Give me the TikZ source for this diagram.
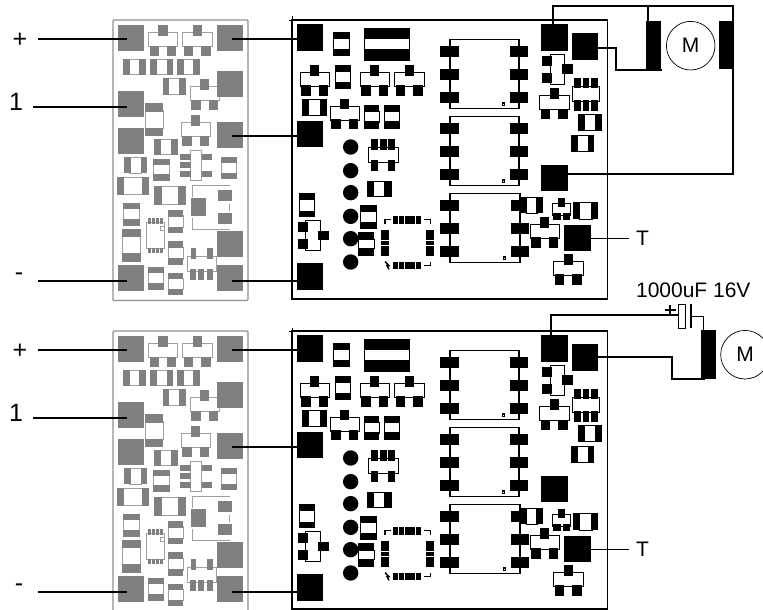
\documentclass[tikz,border=0pt]{standalone}
\usepackage{fontspec}
\setmainfont{Liberation Sans}
\colorlet{padc}{black}
\colorlet{linec}{black}
\tikzset{
  partfill/.style={fill=padc},
  partline/.style={draw=linec,line width=.85pt,fill=white},
  openline/.style={draw=linec,line width=.9pt},
  zoomgrid/.style={x=0.33333pt,y=-0.33333pt},
  gpad/.style={rectangle,fill=padgrey,draw=none,inner sep=0pt,minimum width=26pt,minimum height=26pt},
  bpad/.style={rectangle,fill=black,draw=none,inner sep=0pt,minimum width=26.5pt,minimum height=26.5pt},
  wire/.style={draw=black,line width=2pt},
  thinwire/.style={draw=black,line width=1.4pt},
  board/.style={draw=black,line width=1.5pt},
  greyedge/.style={draw=edgegrey,line width=1.3pt,rounded corners=1pt},
  motorbar/.style={fill=black},
  motor/.style={circle,draw=black,line width=0.7pt,minimum size=48.6pt,inner sep=0pt},
  bigtext/.style={inner sep=0pt,font=\fontsize{25}{25}\selectfont},
  midtext/.style={inner sep=0pt,font=\fontsize{21}{21}\selectfont},
}
\definecolor{padgrey}{HTML}{808080}
\definecolor{linegrey}{HTML}{A0A0A0}
\definecolor{edgegrey}{HTML}{909090}
\newcommand{\rct}[4]{\fill[partfill] (#1,#2) rectangle (#3,#4);}
\newcommand{\sotpart}[2]{%
  \draw[partline] ({#1-44},{#2+22}) rectangle ({#1+44},{#2+64});
  \rct{#1-14}{#2}{#1+14}{#2+32}
  \rct{#1-40}{#2+61}{#1-12}{#2+92}
  \rct{#1+12}{#2+61}{#1+40}{#2+92}}
\newcommand{\caph}[5]{%
  \draw[partline] ({#1+#5-3},{#2+1}) rectangle ({#3-#5+3},{#4-1});
  \rct{#1}{#2}{#1+#5}{#4}
  \rct{#3-#5}{#2}{#3}{#4}}
\newcommand{\capv}[5]{%
  \draw[partline] ({#1+1},{#2+#5-3}) rectangle ({#3-1},{#4-#5+3});
  \rct{#1}{#2}{#3}{#2+#5}
  \rct{#1}{#4-#5}{#3}{#4}}
\newcommand{\rsot}[2]{%
  \draw[partline] ({#1+24},#2) rectangle ({#1+68},{#2+90});
  \rct{#1}{#2+4}{#1+30}{#2+34}
  \rct{#1}{#2+56}{#1+30}{#2+86}
  \rct{#1+61}{#2+30}{#1+93}{#2+58}}
\newcommand{\soic}[3]{% left x, top y, right x
  \draw[partline,line width=1.1pt] (#1,#2) rectangle (#3,{#2+207});
  \foreach \d in {19,88,157}{
    \rct{#1-30}{#2+\d}{#1+27}{#2+\d+35}
    \rct{#3-27}{#2+\d}{#3+28}{#2+\d+35}}
  \draw[openline,line width=1.2pt] ({#3-50},{#2+191}) rectangle ({#3-43},{#2+198});}

\newcommand{\greyboard}{%
  \colorlet{padc}{padgrey}\colorlet{linec}{linegrey}
  \begin{scope}[zoomgrid,xshift=100pt]
    \sotpart{189}{76}\sotpart{292}{76}\sotpart{314}{238}\sotpart{287}{346}
    \caph{70}{176}{137}{225}{20}\caph{150}{176}{220}{225}{20}\caph{232}{176}{300}{225}{20}
    \caph{188}{235}{258}{285}{20}\caph{163}{417}{233}{465}{20}\caph{72}{472}{142}{520}{20}
    \caph{50}{530}{148}{584}{23}\caph{163}{558}{258}{614}{24}
    \capv{135}{310}{190}{408}{25}\capv{160}{476}{210}{543}{20}\capv{362}{470}{410}{538}{20}
    \capv{70}{608}{120}{678}{20}\capv{66}{687}{122}{785}{25}\capv{203}{630}{250}{700}{20}
    \capv{203}{724}{250}{795}{20}\capv{143}{800}{192}{870}{20}\capv{203}{818}{250}{886}{20}
    % six-pin part
    \draw[partline] (270,452) rectangle (305,540);
    \rct{240}{462}{272}{480}\rct{240}{486}{272}{505}\rct{240}{513}{272}{531}
    \rct{305}{462}{337}{480}\rct{305}{513}{337}{531}
    % regulator
    \draw[openline] (277,590) -- (277,557) -- (390,557);
    \draw[openline] (277,655) -- (277,688) -- (390,688);
    \draw[openline] (388,612) -- (388,632);
    \rct{273}{594}{317}{648}\rct{353}{570}{397}{604}\rct{353}{638}{397}{672}
    % small package
    \draw[partline] (140,668) rectangle (192,745);
    \foreach \qx in {145,157,169,181}{\rct{\qx}{655}{\qx+8}{672}\rct{\qx}{745}{\qx+8}{760}}
    \draw[openline] (180,680) rectangle (192,692);
    % bottom part
    \draw[partline] (262,770) rectangle (348,815);
    \rct{272}{745}{288}{778}\rct{320}{745}{338}{778}
    \rct{270}{806}{288}{840}\rct{295}{806}{312}{840}\rct{320}{806}{340}{840}
  \end{scope}}

\newcommand{\blackparts}{%
  \colorlet{padc}{black}\colorlet{linec}{black}
  \begin{scope}[zoomgrid,xshift=285pt]
    \capv{143}{97}{195}{168}{20}\capv{238}{84}{375}{182}{34}
    \sotpart{89}{195}\capv{150}{195}{197}{268}{22}\sotpart{269}{195}\sotpart{373}{195}
    \caph{52}{296}{126}{347}{20}\sotpart{179}{296}
    \capv{237}{315}{283}{386}{22}\capv{298}{315}{344}{386}{22}
    \foreach \cy in {441,512,578,649,716,786}{\fill[partfill] (197,\cy) circle[radius=7.7pt];}
    \draw[partline] (250,443) rectangle (340,487);
    \rct{258}{418}{280}{450}\rct{284}{418}{306}{450}\rct{308}{418}{330}{450}
    \rct{258}{480}{280}{512}\rct{308}{480}{330}{512}
    \caph{245}{542}{320}{590}{22}\capv{225}{615}{275}{687}{22}\capv{218}{696}{268}{768}{25}
    \capv{43}{580}{90}{652}{20}\rsot{38}{662}
    % square package
    \foreach \qx in {325,342,359,376,393}{\rct{\qx}{648}{\qx+15}{672}\rct{\qx}{785}{\qx+15}{808}}
    \foreach \qy in {690,706,722,738,754}{\rct{287}{\qy}{313}{\qy+14}\rct{422}{\qy}{448}{\qy+14}}
    \draw[openline,line width=1.4pt] (300,673) -- (300,658) -- (318,658);
    \draw[openline,line width=1.4pt] (418,658) -- (436,658) -- (436,673);
    \draw[openline,line width=1.4pt] (418,796) -- (436,796) -- (436,785);
    \draw[openline,line width=1.4pt] (300,785) -- (312,797) -- (306,797) -- (312,808);
  \end{scope}
  \begin{scope}[zoomgrid,xshift=440pt]
    \soic{30}{118}{237}\soic{30}{349}{237}\soic{30}{580}{240}
    \rsot{306}{163}
    \draw[partline] (397,260) rectangle (478,305);
    \rct{403}{233}{422}{265}\rct{428}{233}{447}{265}\rct{452}{233}{473}{265}
    \rct{403}{300}{422}{332}\rct{428}{300}{447}{332}\rct{452}{300}{473}{332}
    \sotpart{343}{265}
    \caph{415}{343}{485}{393}{20}\caph{393}{406}{463}{455}{20}
    \caph{240}{592}{310}{640}{21}
    % small transistor
    \draw[partline] (338,610) rectangle (392,645);
    \rct{355}{595}{375}{620}\rct{340}{640}{362}{660}\rct{368}{640}{390}{660}
    \caph{400}{607}{473}{658}{20}
    \sotpart{314}{651}\sotpart{385}{762}
  \end{scope}}

\newcommand{\leftwires}[1]{%
  \node[gpad] (#1g1) at (130.5,38) {};
  \node[gpad] (#1g2) at (230,38) {};
  \node[gpad] (#1g3) at (230,84) {};
  \node[gpad] (#1g4) at (130.5,104) {};
  \node[gpad] (#1g5) at (130.5,141) {};
  \node[gpad] (#1g6) at (230,135) {};
  \node[gpad] (#1g7) at (230,244) {};
  \node[gpad] (#1g8) at (130.5,278.3) {};
  \node[gpad] (#1g9) at (230,278.3) {};
  \node[bpad] (#1b1) at (310,37.3) {};
  \node[bpad] (#1b2) at (310,134) {};
  \node[bpad] (#1b3) at (310,276.3) {};
  \node[bpad] (#1b4) at (554.3,37.3) {};
  \node[bpad] (#1b5) at (585,46.7) {};
  \node[bpad] (#1b6) at (554.3,178) {};
  \node[bpad] (#1b7) at (577.5,238) {};
  \node[bigtext] (#1plus) at (20,40) {+};
  \node[bigtext] (#1one) at (16,102) {1};
  \node[bigtext] (#1minus) at (19,277) {-};
  \node[midtext] (#1tee) at (642.5,238.5) {T};
  \coordinate (#1s1) at (38,39);
  \coordinate (#1s2) at (33,107);
  \coordinate (#1s3) at (38,281);
  \coordinate (#1s4) at (628.5,238.7);
  \draw[wire] (#1s1) -- ([shift={(-3.5pt,-1pt)}]#1g1.center);
  \draw[wire] (#1s2) -- ([shift={(-3.5pt,-3pt)}]#1g4.center);
  \draw[wire] (#1s3) -- ([shift={(-3.5pt,-2.7pt)}]#1g8.center);
  \draw[wire] ([shift={(2pt,-1pt)}]#1g2.center) -- ([yshift=-1.7pt]#1b1.west);
  \draw[wire] ([shift={(2pt,-.5pt)}]#1g6.center) -- ([yshift=-1.5pt]#1b2.west);
  \draw[wire] ([shift={(2pt,-2.7pt)}]#1g9.center) -- ([yshift=-4.7pt]#1b3.west);
  \draw[thinwire] ([yshift=-.7pt]#1b7.east) -- (#1s4);}

\begin{document}
\begin{tikzpicture}[x=1pt,y=-1pt]
\useasboundingbox (0,0) rectangle (763,610);
\clip (0,0) rectangle (763,610);
\fill[white] (0,0) rectangle (763,610);

% ---------- upper assembly ----------
\draw[greyedge] (113,20) rectangle (248,300.5);
\draw[board] (292,20) rectangle (607.7,299);
\draw[line width=.6pt] (289,20) -- (292,20) -- (292,16.5);
\greyboard
\blackparts
\leftwires{u}
% motor wiring, upper
\coordinate (ua) at (552.7,6);
\coordinate (ub) at (733.3,6);
\coordinate (uc) at (733.3,174.3);
\coordinate (ud) at (648.3,6);
\coordinate (ue) at (648.3,20.7);
\coordinate (uf) at (616,47.7);
\coordinate (ug) at (616,70.3);
\coordinate (uh) at (661.7,70.3);
\fill[motorbar] (646,20.7) rectangle (661,71);
\fill[motorbar] (718.7,20.7) rectangle (733.3,69.3);
\node[motor] (um) at (690.7,45.7) {};
\node[midtext] (uml) at (um.center) {M};
\draw[wire] ([xshift=-1.6pt]ub4.north) -- (ua) -- (ub) -- (uc) -- ([yshift=3.7pt]ub6.east);
\draw[wire] (ud) -- (ue);
\draw[wire] ([yshift=-1pt]ub5.east) -- (uf) -- (ug) -- (uh);

% ---------- lower assembly ----------
\begin{scope}[yshift=-311pt]
\draw[greyedge] (113,302) -- (113,20) -- (248,20) -- (248,302);
\draw[board] (292,20) rectangle (607.7,298);
\draw[line width=.6pt] (289,20) -- (292,20) -- (292,16.5);
\greyboard
\blackparts
\leftwires{l}
\end{scope}
% motor wiring, lower
\fill[motorbar] (701.3,330) rectangle (716,379.3);
\node[motor] (lm) at (745,354.7) {};
\node[midtext] (lml) at (lm.center) {M};
\node[midtext] (lval) at (693.3,290) {1000uF 16V};
\coordinate (la) at (550.7,315);
\coordinate (lb) at (678.3,315);
\coordinate (lc) at (690.7,316.7);
\coordinate (ld) at (703.3,316.7);
\coordinate (le) at (671.7,357.2);
\coordinate (lf) at (671.7,379.3);
\coordinate (lg) at (705,379.3);
\draw[wire] ([xshift=-3.6pt]lb4.north) -- (la) -- (lb);
\draw[line width=1.3pt] (664.5,310) -- (675.5,310);
\draw[line width=1.3pt] (670,305) -- (670,315);
\draw[line width=1.4pt,fill=white] (678.3,304.3) rectangle (685.7,328.3);
\draw[line width=1.9pt] (690.7,304.3) -- (690.7,328.3);
\draw[thinwire] (lc) -- (ld) -- (703.3,330);
\draw[wire] ([yshift=.5pt]lb5.east) -- (le) -- (lf) -- (lg);
\end{tikzpicture}
\end{document}
